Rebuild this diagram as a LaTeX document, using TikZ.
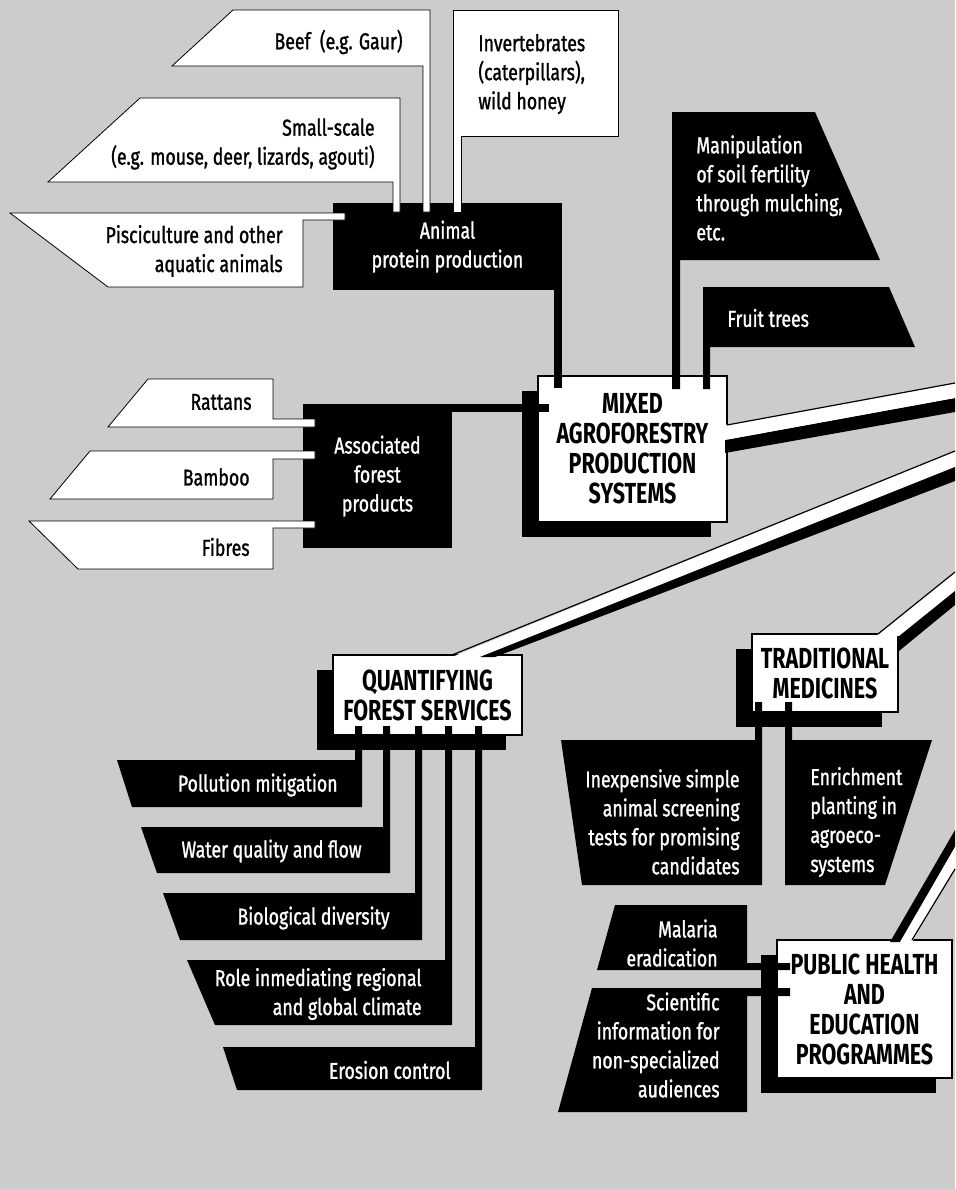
\documentclass[tikz,border=0pt]{standalone}
\usepackage{fontspec}
\setmainfont{Fira Sans}[FakeStretch=0.74]
\newfontfamily\lblfont{Fira Sans}[FakeStretch=0.77,FakeBold=1.2]
\usetikzlibrary{shadows}

\begin{document}
\begin{tikzpicture}[x=0.5pt, y=-0.5pt,
    wshape/.style={fill=white, draw=black, line width=0.4pt},
    lbl/.style={font=\lblfont\fontsize{11.5}{14.5}\selectfont, inner sep=0pt},
    wlbl/.style={lbl, text=white},
    klbl/.style={lbl, text=black},
    blkbox/.style={lbl, fill=black, text=white, align=center},
    mainbox/.style={fill=white, draw=black, line width=1.2pt, align=center, inner sep=0pt,
      font=\bfseries\fontsize{14.5}{15}\selectfont,
      drop shadow={shadow xshift=-8pt, shadow yshift=-7.5pt, fill=black, opacity=1}},
    bstripe/.style={draw=black, line width=4pt},
    rim/.style={draw=black, line width=0.6pt}]
  \useasboundingbox (0,0) rectangle (955,1189);
  \fill[black!20] (0,0) rectangle (955,1189);

  \node[blkbox, minimum width=114.5pt, minimum height=43.5pt] (animal) at (447.5,246.5) {Animal\\protein production};
  \draw[wshape] (233,10) -- (430,10) -- (430,212) -- (423,212) -- (423,66) -- (172,66) -- cycle;
  \draw[wshape] (140,98) -- (400,98) -- (400,212) -- (393,212) -- (393,182) -- (48,182) -- cycle;
  \draw[wshape] (10,213) -- (345,213) -- (345,220) -- (303,220) -- (303,287) -- (108,287) -- cycle;
  \draw[wshape] (453,10) -- (618,10) -- (618,136) -- (461,136) -- (461,212) -- (453,212) -- cycle;
  \node[klbl, anchor=east] (beef) at (403,42) {Beef~~(e.g. Gaur)};
  \node[klbl, anchor=east, align=right] (small) at (375,144) {Small-scale\\(e.g. mouse, deer, lizards, agouti)};
  \node[klbl, anchor=east, align=right] (pisci) at (283,251) {Pisciculture and other\\aquatic animals};
  \node[klbl, anchor=west, align=left] (invert) at (478,74) {Invertebrates\\(caterpillars),\\wild honey};

  \node[blkbox, minimum width=74.5pt, minimum height=72pt] (assoc) at (377.5,476) {Associated\\forest\\products};
  \draw[wshape] (148,379) -- (273,379) -- (273,419) -- (315,419) -- (315,427) -- (108,427) -- cycle;
  \draw[wshape] (90,451) -- (315,451) -- (315,459) -- (273,459) -- (273,499) -- (50,499) -- cycle;
  \draw[wshape] (29,521) -- (315,521) -- (315,528) -- (273,528) -- (273,569) -- (78,569) -- cycle;
  \node[klbl, anchor=east] (rattan) at (252,402) {Rattans};
  \node[klbl, anchor=east] (bamboo) at (250,477) {Bamboo};
  \node[klbl, anchor=east] (fibre) at (250,547) {Fibres};

  \node[mainbox, minimum width=94.5pt, minimum height=73pt] (mixed) at (632.5,449) {MIXED\\AGROFORESTRY\\PRODUCTION\\SYSTEMS};
  \fill[black] (725,440) -- (955,398) -- (955,412) -- (725,453) -- cycle;
  \fill[white] (725,425) -- (955,383) -- (955,398) -- (725,440) -- cycle;
  \draw[rim] (727,425) -- (955,383);
  \draw[bstripe] ([xshift=-2pt]animal.south east) -- ([xshift=-2pt]animal.south east |- mixed.north) -- ++(0,-6.5pt);
  \draw[bstripe] ([yshift=-2pt]assoc.north east) -- ([yshift=-2pt]assoc.north east -| mixed.west) -- ++(6pt,0);
  \fill (672,112) -- (815,112) -- (880,260) -- (680,260) -- (680,389) -- (672,389) -- cycle;
  \fill (703,287) -- (889,287) -- (915,347) -- (710,347) -- (710,389) -- (703,389) -- cycle;
  \node[wlbl, anchor=west, align=left] (manip) at (696,188) {Manipulation\\of soil fertility\\through mulching,\\etc.};
  \node[wlbl, anchor=west] (fruit) at (727,318) {Fruit trees};

  \node[mainbox, minimum width=94.5pt, minimum height=40pt] (qfs) at (427.5,695) {QUANTIFYING\\FOREST SERVICES};
  \fill[white] (452,657) -- (955,451) -- (955,467) -- (480,657) -- cycle;
  \fill[black] (480,657) -- (955,467) -- (955,481) -- (495,657) -- cycle;
  \draw[rim] (452,655) -- (955,451);
  \fill (117,760) -- (355,760) -- (355,726) -- (362,726) -- (362,807) -- (132,807) -- cycle;
  \fill (141,827) -- (383,827) -- (383,726) -- (390,726) -- (390,873) -- (157,873) -- cycle;
  \fill (163,893) -- (415,893) -- (415,726) -- (422,726) -- (422,940) -- (180,940) -- cycle;
  \fill (187,960) -- (445,960) -- (445,726) -- (452,726) -- (452,1025) -- (215,1025) -- cycle;
  \fill (223,1047) -- (475,1047) -- (475,726) -- (482,726) -- (482,1090) -- (237,1090) -- cycle;
  \node[wlbl, anchor=east] (pollu) at (338,785) {Pollution mitigation};
  \node[wlbl, anchor=east] (water) at (362,851) {Water quality and flow};
  \node[wlbl, anchor=east] (biodiv) at (390,918) {Biological diversity};
  \node[wlbl, anchor=east, align=right] (climate) at (422,994) {Role inmediating regional\\and global climate};
  \node[wlbl, anchor=east] (erosion) at (451,1070) {Erosion control};

  \node[mainbox, minimum width=73pt, minimum height=39pt] (tradmed) at (825,673) {TRADITIONAL\\MEDICINES};
  \fill[white] (876,636) -- (955,572) -- (955,591) -- (899,636) -- cycle;
  \fill[black] (898,637) -- (955,591) -- (955,605) -- (899,651) -- cycle;
  \draw[rim] (878,634) -- (955,572);
  \fill (561,740) -- (755,740) -- (755,702) -- (762,702) -- (762,885) -- (582,885) -- cycle;
  \fill (785,702) -- (792,702) -- (792,740) -- (932,740) -- (885,885) -- (785,885) -- cycle;
  \node[wlbl, anchor=east, align=right] (screen) at (740,822) {Inexpensive simple\\animal screening\\tests for promising\\candidates};
  \node[wlbl, anchor=west, align=left] (enrich) at (810,822) {Enrichment\\planting in\\agroeco-\\systems};

  \node[mainbox, minimum width=87.5pt, minimum height=69pt] (health) at (864.5,1009) {PUBLIC HEALTH\\AND\\EDUCATION\\PROGRAMMES};
  \fill[black] (890,942) -- (955,830) -- (955,847) -- (901,942) -- cycle;
  \fill[white] (900,942) -- (955,847) -- (955,869) -- (912,942) -- cycle;
  \draw[rim] (912,940) -- (955,869);
  \fill (615,905) -- (747,905) -- (747,963) -- (790,963) -- (790,970) -- (597,970) -- cycle;
  \fill (592,988) -- (790,988) -- (790,996) -- (747,996) -- (747,1112) -- (558,1112) -- cycle;
  \node[wlbl, anchor=east, align=right] (malaria) at (718,943) {Malaria\\eradication};
  \node[wlbl, anchor=east, align=right] (sciinfo) at (720,1045) {Scientific\\information for\\non-specialized\\audiences};
\end{tikzpicture}
\end{document}
